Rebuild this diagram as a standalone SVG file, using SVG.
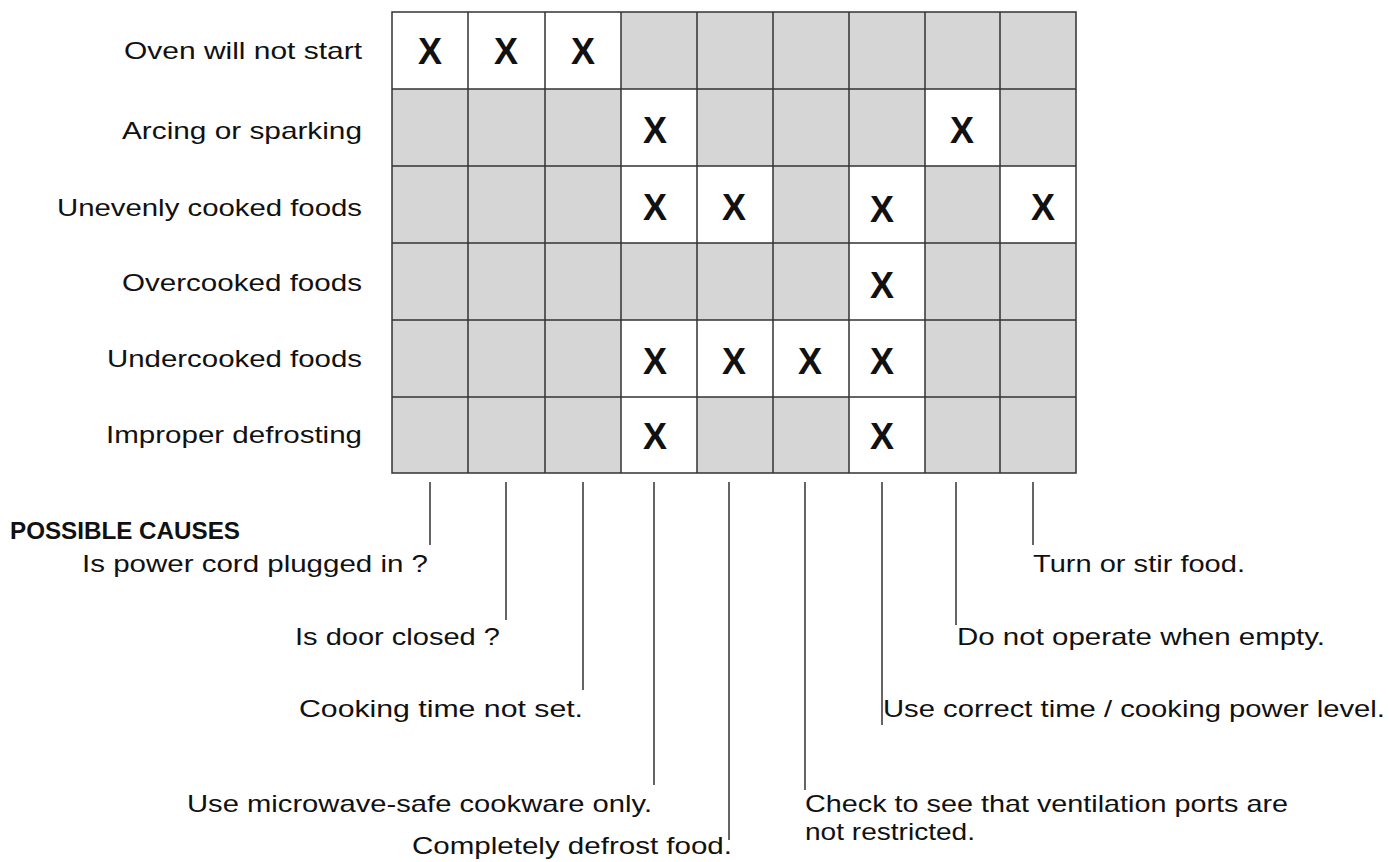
<svg xmlns="http://www.w3.org/2000/svg" width="1390" height="862" viewBox="0 0 1390 862">
<style>
text{font-family:"Liberation Sans",Arial,sans-serif;fill:#111}
.l{font-size:24px;text-anchor:end}
.c{font-size:24px}
.x{font-size:36px;font-weight:bold;text-anchor:middle}
.g{stroke:#333;stroke-width:1.5;fill:none}
.w{fill:#fff}
</style>
<rect width="1390" height="862" fill="#fff"/>
<g id="grid">
<rect x="392" y="12" width="684" height="461" fill="#d6d6d6"/>
<g class="w">
<rect x="392" y="12" width="76" height="77"/><rect x="468" y="12" width="77" height="77"/><rect x="545" y="12" width="76" height="77"/>
<rect x="621" y="89" width="76" height="77"/><rect x="925" y="89" width="75" height="77"/>
<rect x="621" y="166" width="76" height="77"/><rect x="697" y="166" width="76" height="77"/><rect x="849" y="166" width="76" height="77"/><rect x="1000" y="166" width="76" height="77"/>
<rect x="849" y="243" width="76" height="77"/>
<rect x="621" y="320" width="76" height="77"/><rect x="697" y="320" width="76" height="77"/><rect x="773" y="320" width="76" height="77"/><rect x="849" y="320" width="76" height="77"/>
<rect x="621" y="397" width="76" height="76"/><rect x="849" y="397" width="76" height="76"/>
</g>
<path class="g" d="M392 12H1076V473H392Z M468 12V473 M545 12V473 M621 12V473 M697 12V473 M773 12V473 M849 12V473 M925 12V473 M1000 12V473 M392 89H1076 M392 166H1076 M392 243H1076 M392 320H1076 M392 397H1076"/>
<g>
<text class="x" x="430" y="64">X</text><text class="x" x="506" y="64">X</text><text class="x" x="583" y="64">X</text>
<text class="x" x="655" y="143">X</text><text class="x" x="962" y="143">X</text>
<text class="x" x="655" y="220">X</text><text class="x" x="734" y="220">X</text><text class="x" x="882" y="222">X</text><text class="x" x="1043" y="220">X</text>
<text class="x" x="882" y="298">X</text>
<text class="x" x="655" y="374">X</text><text class="x" x="734" y="374">X</text><text class="x" x="810" y="374">X</text><text class="x" x="882" y="374">X</text>
<text class="x" x="655" y="449">X</text><text class="x" x="882" y="449">X</text>
</g>
</g>
<g id="rows">
<text class="l" x="362" y="59" textLength="238" lengthAdjust="spacingAndGlyphs">Oven will not start</text>
<text class="l" x="362" y="139" textLength="240" lengthAdjust="spacingAndGlyphs">Arcing or sparking</text>
<text class="l" x="362" y="216" textLength="305" lengthAdjust="spacingAndGlyphs">Unevenly cooked foods</text>
<text class="l" x="362" y="291" textLength="240" lengthAdjust="spacingAndGlyphs">Overcooked foods</text>
<text class="l" x="362" y="367" textLength="255" lengthAdjust="spacingAndGlyphs">Undercooked foods</text>
<text class="l" x="362" y="443" textLength="256" lengthAdjust="spacingAndGlyphs">Improper defrosting</text>
</g>
<g id="connectors" class="g">
<path d="M430 482V545 M506 482V620 M583 482V690 M654 482V785 M729 482V840 M805 482V790 M882 482V725 M956 482V625 M1033 482V545"/>
</g>
<g id="causes">
<text x="10" y="539" style="font-size:23px;font-weight:bold" textLength="230" lengthAdjust="spacingAndGlyphs">POSSIBLE CAUSES</text>
<text class="c" x="82" y="572" textLength="346" lengthAdjust="spacingAndGlyphs">Is power cord plugged in ?</text>
<text class="c" x="295" y="645" textLength="205" lengthAdjust="spacingAndGlyphs">Is door closed ?</text>
<text class="c" x="299" y="717" textLength="284" lengthAdjust="spacingAndGlyphs">Cooking time not set.</text>
<text class="c" x="187" y="812" textLength="465" lengthAdjust="spacingAndGlyphs">Use microwave-safe cookware only.</text>
<text class="c" x="412" y="854" textLength="320" lengthAdjust="spacingAndGlyphs">Completely defrost food.</text>
<text class="c" x="805" y="812" textLength="483" lengthAdjust="spacingAndGlyphs">Check to see that ventilation ports are</text>
<text class="c" x="805" y="840" textLength="170" lengthAdjust="spacingAndGlyphs">not restricted.</text>
<text class="c" x="883" y="717" textLength="502" lengthAdjust="spacingAndGlyphs">Use correct time / cooking power level.</text>
<text class="c" x="957" y="645" textLength="368" lengthAdjust="spacingAndGlyphs">Do not operate when empty.</text>
<text class="c" x="1033" y="572" textLength="212" lengthAdjust="spacingAndGlyphs">Turn or stir food.</text>
</g>
</svg>
